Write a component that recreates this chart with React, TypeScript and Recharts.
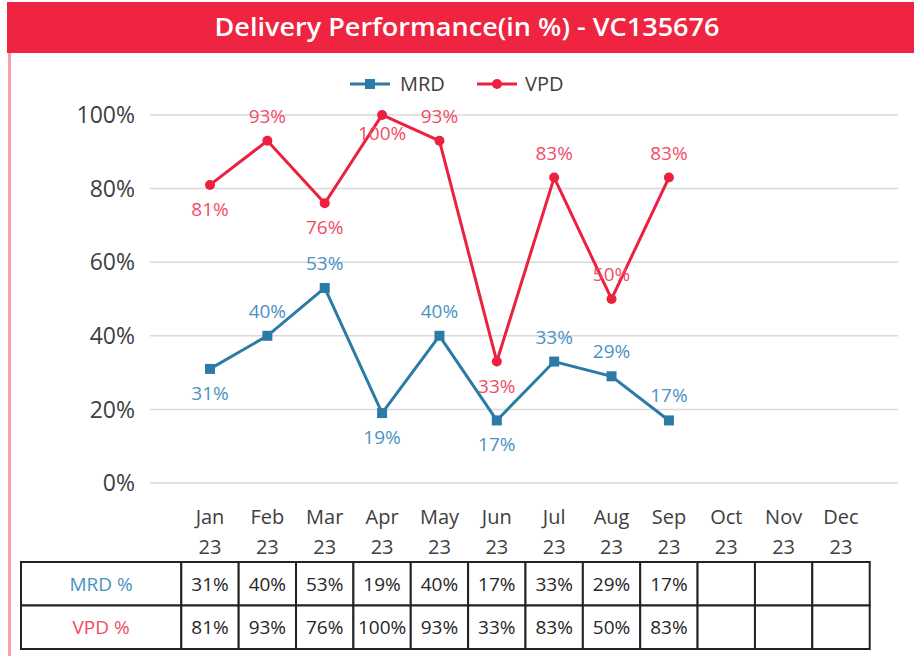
import React from 'react';
import { LineChart, Line, XAxis, YAxis, CartesianGrid, LabelList } from 'recharts';

const months = ['Jan', 'Feb', 'Mar', 'Apr', 'May', 'Jun', 'Jul', 'Aug', 'Sep', 'Oct', 'Nov', 'Dec'];
const yearLabel = '23';
const mrdValues: (number | null)[] = [31, 40, 53, 19, 40, 17, 33, 29, 17, null, null, null];
const vpdValues: (number | null)[] = [81, 93, 76, 100, 93, 33, 83, 50, 83, null, null, null];
const mrdLabelSide = ['below', 'above', 'above', 'below', 'above', 'below', 'above', 'above', 'above'];
const vpdLabelSide = ['below', 'above', 'below', 'near', 'above', 'below', 'above', 'above', 'above'];
const yTicks = [0, 20, 40, 60, 80, 100];
const seriesNames = ['MRD', 'VPD'];
const tableRowLabels = ['MRD %', 'VPD %'];

const data = months.map((m, i) => ({ month: m, year: yearLabel, mrd: mrdValues[i], vpd: vpdValues[i] }));

const MRD_COLOR = '#2B7BA6';
const MRD_LABEL = '#4A93C1';
const VPD_COLOR = '#EC2140';
const VPD_LABEL = '#F04C66';
const HEADER_RED = '#EE2440';
const FONT = '"Open Sans", "Noto Sans", sans-serif';

const COL_W = 57.4;
const TABLE_TOP = 562;
const ROW_H = 43.5;
const TABLE_LEFT = 21;

const fmt = (v: number | null) => (v === null || v === undefined ? '' : `${v}%`);

const XTick = (props: any) => {
  const { x, y, payload } = props;
  const i = payload.index;
  const left = x - COL_W / 2;
  const row1 = TABLE_TOP;
  const row2 = TABLE_TOP + ROW_H;
  return (
    <g>
      <text x={x} y={y + 41} textAnchor="middle" fontSize={20} fill="#404040" fontFamily={FONT}>{payload.value}</text>
      <text x={x} y={y + 71} textAnchor="middle" fontSize={20} fill="#404040" fontFamily={FONT}>{yearLabel}</text>
      {i === 0 && (
        <g>
          <rect x={TABLE_LEFT} y={row1} width={left - TABLE_LEFT} height={ROW_H} fill="#fff" stroke="#222" strokeWidth={2} />
          <rect x={TABLE_LEFT} y={row2} width={left - TABLE_LEFT} height={ROW_H} fill="#fff" stroke="#222" strokeWidth={2} />
          <text x={(TABLE_LEFT + left) / 2} y={row1 + ROW_H / 2 + 7} textAnchor="middle" fontSize={19} fill={MRD_LABEL} fontFamily={FONT}>{tableRowLabels[0]}</text>
          <text x={(TABLE_LEFT + left) / 2} y={row2 + ROW_H / 2 + 7} textAnchor="middle" fontSize={19} fill={VPD_LABEL} fontFamily={FONT}>{tableRowLabels[1]}</text>
        </g>
      )}
      <rect x={left} y={row1} width={COL_W} height={ROW_H} fill="#fff" stroke="#222" strokeWidth={2} />
      <rect x={left} y={row2} width={COL_W} height={ROW_H} fill="#fff" stroke="#222" strokeWidth={2} />
      <text x={x} y={row1 + ROW_H / 2 + 7} textAnchor="middle" fontSize={19} fill="#262626" fontFamily={FONT}>{fmt(mrdValues[i])}</text>
      <text x={x} y={row2 + ROW_H / 2 + 7} textAnchor="middle" fontSize={19} fill="#262626" fontFamily={FONT}>{fmt(vpdValues[i])}</text>
    </g>
  );
};

const makeLabel = (sides: string[], color: string) => (props: any) => {
  const { x, y, value, index } = props;
  if (value === null || value === undefined) return null;
  const side = sides[index];
  const dy = side === 'above' ? -18 : side === 'near' ? 25 : 31;
  return (
    <text x={x} y={y + dy} textAnchor="middle" fontSize={19} fill={color} fontFamily={FONT}>{`${value}%`}</text>
  );
};

const SquareDot = (props: any) => {
  const { cx, cy, value } = props;
  if (value === null || value === undefined || cx == null || cy == null) return null;
  return <rect x={cx - 5} y={cy - 5} width={10} height={10} fill={MRD_COLOR} />;
};

const CircleDot = (props: any) => {
  const { cx, cy, value } = props;
  if (value === null || value === undefined || cx == null || cy == null) return null;
  return <circle cx={cx} cy={cy} r={5} fill={VPD_COLOR} />;
};

const LegendBox = () => (
  <svg width={914} height={40} style={{ position: 'absolute', left: 0, top: 64 }}>
    <g>
      <line x1={350} y1={20} x2={390} y2={20} stroke={MRD_COLOR} strokeWidth={3} />
      <rect x={365} y={15} width={10} height={10} fill={MRD_COLOR} />
      <text x={400} y={27} fontSize={20} fill="#404040" fontFamily={FONT}>{seriesNames[0]}</text>
      <line x1={477} y1={20} x2={517} y2={20} stroke={VPD_COLOR} strokeWidth={3} />
      <circle cx={497} cy={20} r={5} fill={VPD_COLOR} />
      <text x={525} y={27} fontSize={20} fill="#404040" fontFamily={FONT}>{seriesNames[1]}</text>
    </g>
  </svg>
);

export default function App() {
  return (
    <div style={{ position: 'absolute', left: 0, top: 0, width: 914, height: 656, background: '#fff', overflow: 'hidden' }}>
      <LineChart
        width={914}
        height={656}
        data={data}
        margin={{ top: 115, right: 16, bottom: 0, left: 90 }}
      >
        <CartesianGrid vertical={false} stroke="#D9D9D9" strokeWidth={1.5} />
        <XAxis
          dataKey="month"
          interval={0}
          axisLine={false}
          tickLine={false}
          tickSize={0}
          tickMargin={0}
          height={173}
          padding={{ left: 60, right: 57 }}
          tick={<XTick />}
        />
        <YAxis
          domain={[0, 100]}
          ticks={yTicks}
          width={60}
          axisLine={false}
          tickLine={false}
          tickSize={0}
          tickMargin={15}
          tickFormatter={(v: number) => `${v}%`}
          tick={{ fontSize: 23, fill: '#404040', fontFamily: FONT }}
        />
        <Line
          type="linear"
          dataKey="mrd"
          stroke={MRD_COLOR}
          strokeWidth={3}
          dot={<SquareDot />}
          activeDot={false}
          isAnimationActive={false}
          connectNulls={false}
        >
          <LabelList dataKey="mrd" content={makeLabel(mrdLabelSide, MRD_LABEL)} />
        </Line>
        <Line
          type="linear"
          dataKey="vpd"
          stroke={VPD_COLOR}
          strokeWidth={3}
          dot={<CircleDot />}
          activeDot={false}
          isAnimationActive={false}
          connectNulls={false}
        >
          <LabelList dataKey="vpd" content={makeLabel(vpdLabelSide, VPD_LABEL)} />
        </Line>
      </LineChart>
      <LegendBox />
      <svg width={914} height={656} style={{ position: 'absolute', left: 0, top: 0, pointerEvents: 'none' }}>
        <rect x={7} y={2} width={907} height={51} fill={HEADER_RED} />
        <rect x={8} y={53} width={3} height={603} fill="#F7A1AE" />
        <text x={467} y={36} textAnchor="middle" fontSize={25} fontWeight={600} fill="#fff" fontFamily={FONT} textLength={505} lengthAdjust="spacingAndGlyphs">
          Delivery Performance(in %) - VC135676
        </text>
      </svg>
    </div>
  );
}
